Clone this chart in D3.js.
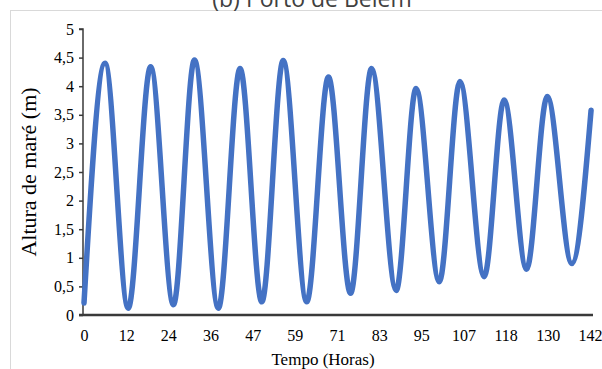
<!DOCTYPE html>
<html>
<head>
<meta charset="utf-8">
<script src="https://cdn.jsdelivr.net/npm/d3@7"></script>
<style>
  html, body { margin: 0; padding: 0; background: #fff; }
  svg { display: block; }
</style>
</head>
<body>
<svg id="chart" width="602" height="369"></svg>
<script>
// Tide extremes (time in hours, height in m)
const hours = [0, 5.9, 12.4, 18.7, 25.1, 31.0, 37.7, 43.8, 49.9, 55.9, 62.5, 68.6, 74.8, 80.7, 87.6, 93.2, 99.7, 105.5, 112.3, 117.9, 124.2, 130.0, 136.9, 142.3];
const heights = [0.21, 4.40, 0.12, 4.34, 0.18, 4.46, 0.12, 4.31, 0.23, 4.45, 0.23, 4.16, 0.38, 4.31, 0.43, 3.96, 0.58, 4.08, 0.67, 3.76, 0.80, 3.82, 0.90, 3.58];
const xTickLabels = ["0", "12", "24", "36", "47", "59", "71", "83", "95", "107", "118", "130", "142"];
const yTicks = [0, 0.5, 1, 1.5, 2, 2.5, 3, 3.5, 4, 4.5, 5];
const title = "(b) Porto de Belém";
const xTitle = "Tempo (Horas)";
const yTitle = "Altura de maré (m)";

const data = hours.map((h, i) => ({ t: h, v: heights[i] }));

const svg = d3.select("#chart");
const mLeft = 83, mRight = 590, mTop = 29, mBottom = 315;

const x = d3.scaleLinear().domain([0, 142]).range([mLeft + 1, mRight]);
const y = d3.scaleLinear().domain([0, 5]).range([mBottom, mTop]);

// outer border
svg.append("rect")
  .attr("x", 10.5).attr("y", 10.5)
  .attr("width", 600).attr("height", 370)
  .attr("fill", "none").attr("stroke", "#d9d9d9").attr("stroke-width", 1);

// title (cut off at top as in reference)
svg.append("text")
  .attr("x", 312).attr("y", 7)
  .attr("text-anchor", "middle")
  .attr("font-family", "'Open Sans', 'Liberation Sans', sans-serif")
  .attr("font-size", 23)
  .attr("fill", "#404040")
  .text(title);

// y axis
const yAxis = d3.axisLeft(y)
  .tickValues(yTicks)
  .tickSize(4)
  .tickPadding(5)
  .tickFormat(d => String(d).replace(".", ","));
const gy = svg.append("g").attr("transform", `translate(${mLeft},0)`).call(yAxis);
gy.select(".domain").attr("stroke", "#3a3a3a").attr("stroke-width", 1.5).attr("d", `M-4,${mTop}H0V${mBottom}`);
gy.selectAll(".tick line").attr("stroke", "#3a3a3a").attr("stroke-width", 1.5);
gy.selectAll(".tick text")
  .attr("font-family", "'Liberation Serif', 'Times New Roman', serif")
  .attr("font-size", 16).attr("fill", "#000");

// x axis
const xTickVals = xTickLabels.map((_, i) => i * 142 / (xTickLabels.length - 1));
const xAxis = d3.axisBottom(x)
  .tickValues(xTickVals)
  .tickSize(0)
  .tickPadding(15)
  .tickFormat((d, i) => xTickLabels[i]);
const gx = svg.append("g").attr("transform", `translate(0,${mBottom})`).call(xAxis);
gx.select(".domain").attr("stroke", "#3a3a3a").attr("stroke-width", 2.5).attr("d", `M${mLeft - 4},0H593`);
gx.selectAll(".tick text")
  .attr("font-family", "'Liberation Serif', 'Times New Roman', serif")
  .attr("font-size", 16).attr("fill", "#000");

// axis titles
svg.append("text")
  .attr("x", 323).attr("y", 365)
  .attr("text-anchor", "middle")
  .attr("font-family", "'Liberation Serif', 'Times New Roman', serif")
  .attr("font-size", 17).attr("fill", "#000")
  .text(xTitle);

svg.append("text")
  .attr("transform", `translate(36,${(mTop + mBottom) / 2}) rotate(-90)`)
  .attr("text-anchor", "middle")
  .attr("font-family", "'Liberation Serif', 'Times New Roman', serif")
  .attr("font-size", 22).attr("fill", "#000")
  .text(yTitle);

// tide line
const line = d3.line()
  .x(d => x(d.t))
  .y(d => y(d.v))
  .curve(d3.curveMonotoneX);

svg.append("path")
  .datum(data)
  .attr("d", line)
  .attr("fill", "none")
  .attr("stroke", "#4472c4")
  .attr("stroke-width", 5.5)
  .attr("stroke-linecap", "round")
  .attr("stroke-linejoin", "round");
</script>
</body>
</html>
